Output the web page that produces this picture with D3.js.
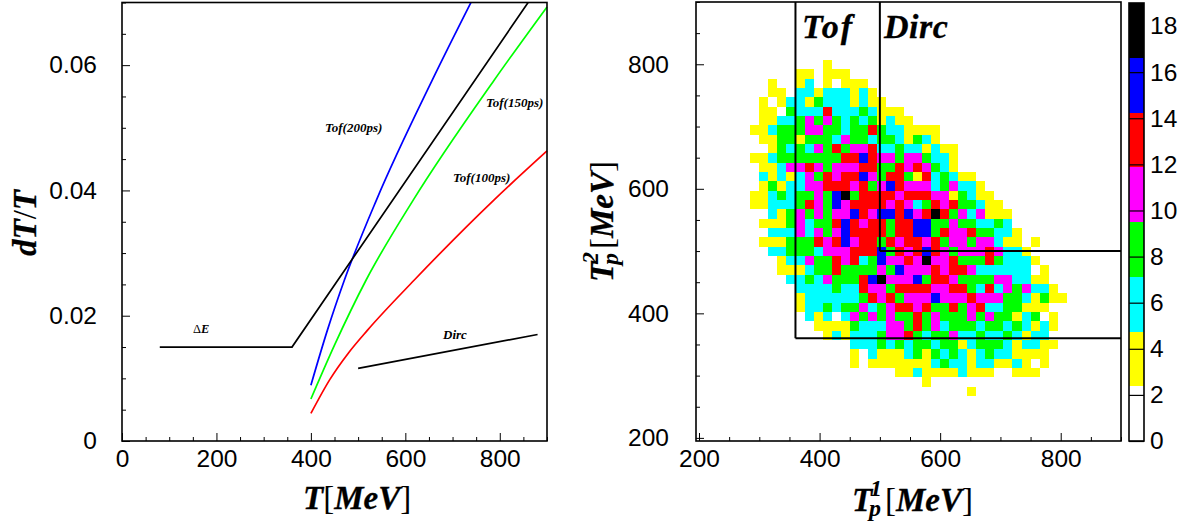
<!DOCTYPE html>
<html>
<head>
<meta charset="utf-8">
<script src="https://cdnjs.cloudflare.com/ajax/libs/d3/7.8.5/d3.min.js"></script>
<style>
  html, body { margin: 0; padding: 0; background: #fff; }
  svg { display: block; }
  .tick text { font-family: "Liberation Sans", sans-serif; font-size: 24.5px; fill: #000; }
  .title { font-family: "Liberation Serif", serif; font-weight: bold; font-style: italic; fill: #000; }
  .big { stroke: #000; stroke-width: 0.3; }
  .plain { font-weight: normal; font-style: normal; stroke: none; }
</style>
</head>
<body>
<div id="chart"></div>
<script>
// left panel: resolution curves [T, dT/T]
const deltaE = [[80, 0.015], [360, 0.015], [860, 0.07]]
const tof200 = [[400, 0.0089], [435, 0.0177], [471, 0.0257], [539, 0.0385], [657, 0.0576], [739, 0.07]]
const tof150 = [[400, 0.0067], [450, 0.0153], [517, 0.0257], [617, 0.0385], [788, 0.0576], [900, 0.0693]]
const tof100 = [[400, 0.0044], [440, 0.0098], [480, 0.0141], [520, 0.0177], [619, 0.0257], [788, 0.0385], [900, 0.0463]]
const dirc = [[500, 0.0116], [880, 0.017]]

// right panel: colour level of each bin, rows from top, columns from the left
const heatRows = [
  "000000001",
  "00000110111",
  "0010012010111",
  "00110221222121",
  "010122132221211",
  "01103222522232111",
  "011223434323231211",
  "112333443323353221111",
  "011331333243323321321",
  "00132324353445223221211",
  "11233333335565443443221",
  "01124454344455335454321",
  "0212124354556435531523211",
  "01312244555453465444234221",
  "112323343673555545554413211",
  "1122235436455554542354533211",
  "00213434344654665645753424111",
  "01113423356545535566334332232",
  "002224243465555355663544533221",
  "01113335456455354554534434421101",
  "0022333244455563545654344454221",
  "00012243354523644547445333532221",
  "000111233533334364445455422222201",
  "000022324333567444635543333442211",
  "0000022223225443555544553252434221",
  "00000122222235453444644454443321311",
  "000001223233423455453353452233111",
  "0000002120243434335343334343312301",
  "0000000111132224435342333233232121",
  "000000001212223445323342232232122",
  "0000000000022232323323312333212211",
  "000000000001021112313232123221111",
  "000000000001011111112322122112101",
  "00000000000000001121111211100111",
  "00000000000000000001",
  "0000000000000000000000001"
]
const binSize = 15
const binLeft = 285
const binTop = 807

const levelColors = ["#ffffff", "#ffff00", "#00ffff", "#00ff00", "#ff00ff", "#ff0000", "#0000ff", "#000000"]
const levelStep = 19 / 8

// acceptance cuts [[T1, T2], [T1, T2]]
const cuts = [
  [[360, 900], [360, 360]],
  [[360, 360], [900, 360]],
  [[500, 900], [500, 500]],
  [[500, 500], [900, 500]]
]

const leftXTicks = d3.range(0, 901, 50)
const leftYTicks = d3.range(0, 0.0701, 0.005)
const rightTicks = d3.range(200, 901, 50)
const barTicks = d3.range(0, 19, 2)

const wrapper = d3.select("#chart")
  .append("svg")
    .attr("width", 1185)
    .attr("height", 524)

// scales
const xLeft = d3.scaleLinear().domain([0, 900]).range([122, 547])
const yLeft = d3.scaleLinear().domain([0, 0.07]).range([441, 2.5])
const xRight = d3.scaleLinear().domain([195, 900]).range([696, 1121])
const yRight = d3.scaleLinear().domain([195, 900]).range([441, 2])
const yBar = d3.scaleLinear().domain([0, 19]).range([441, 3])
const levelColor = d3.scaleOrdinal().domain(d3.range(8)).range(levelColors)

// long ticks only on labelled values
function styleTicks(axisGroup, isMajor, horizontal) {
  axisGroup.selectAll(".tick").each(function(d) {
    const major = isMajor(d)
    const line = d3.select(this).select("line")
      .attr("stroke", "#000")
      .attr("stroke-width", 1)
    if (horizontal) line.attr("y2", major ? -8 : -4)
    else line.attr("x2", major ? 8 : 4)
    if (!major) d3.select(this).select("text").remove()
  })
  axisGroup.select(".domain").remove()
}

function drawFrame(x0, y0, x1, y1) {
  wrapper.append("rect")
    .attr("x", x0)
    .attr("y", y0)
    .attr("width", x1 - x0)
    .attr("height", y1 - y0)
    .attr("fill", "none")
    .attr("stroke", "#000")
    .attr("stroke-width", 1.6)
}

// 1. Left panel
const line = d3.line()
  .x(d => xLeft(d[0]))
  .y(d => yLeft(d[1]))

const curves = [
  [tof200, "#0000ff", d3.curveMonotoneX],
  [tof150, "#00ff00", d3.curveMonotoneX],
  [tof100, "#ff0000", d3.curveMonotoneX],
  [deltaE, "#000000", d3.curveLinear],
  [dirc, "#000000", d3.curveLinear]
]
curves.forEach(([points, color, curve]) => {
  wrapper.append("path")
    .attr("d", line.curve(curve)(points))
    .attr("fill", "none")
    .attr("stroke", color)
    .attr("stroke-width", 1.7)
})

const leftXAxis = wrapper.append("g")
  .attr("transform", `translate(0, ${yLeft(0)})`)
  .call(d3.axisBottom(xLeft).tickValues(leftXTicks).tickSizeInner(-8).tickSizeOuter(0).tickPadding(9).tickFormat(d3.format("d")))
styleTicks(leftXAxis, d => d % 200 === 0, true)

const leftYAxis = wrapper.append("g")
  .attr("transform", `translate(${xLeft(0)}, 0)`)
  .call(d3.axisLeft(yLeft).tickValues(leftYTicks).tickSizeInner(-8).tickSizeOuter(0).tickPadding(25).tickFormat(d => d === 0 ? "0" : d3.format(".2f")(d)))
styleTicks(leftYAxis, d => Math.round(d * 1000) % 20 === 0, false)

drawFrame(xLeft(0), yLeft(0.07), xLeft(900), yLeft(0))

const curveLabels = [
  ["Tof(200ps)", 325, 132],
  ["Tof(150ps)", 486, 107],
  ["Tof(100ps)", 453, 182],
  ["Dirc", 443, 339]
]
curveLabels.forEach(([label, x, y]) => {
  wrapper.append("text")
    .attr("class", "title")
    .attr("x", x)
    .attr("y", y)
    .attr("font-size", 13)
    .text(label)
})
wrapper.append("text")
  .attr("class", "title")
  .attr("x", 193)
  .attr("y", 333)
  .attr("font-size", 12.5)
  .html('<tspan class="plain">Δ</tspan>E')

const leftXTitle = wrapper.append("text")
  .attr("class", "title big")
  .attr("x", 303)
  .attr("y", 509)
  .attr("font-size", 33)
leftXTitle.append("tspan").text("T")
leftXTitle.append("tspan").attr("class", "plain").text("[")
leftXTitle.append("tspan").text("MeV")
leftXTitle.append("tspan").attr("class", "plain").text("]")

wrapper.append("text")
  .attr("class", "title big")
  .attr("transform", "translate(36, 256) rotate(-90)")
  .attr("font-size", 33)
  .html('dT<tspan class="plain">/</tspan>T')

// 2. Right panel
const cells = []
heatRows.forEach((row, r) => {
  row.split("").forEach((c, k) => {
    if (+c > 0) cells.push({ t1: binLeft + k * binSize, t2: binTop - r * binSize, level: +c })
  })
})

wrapper.append("g")
  .attr("shape-rendering", "crispEdges")
  .selectAll("rect")
  .data(cells)
  .join("rect")
    .attr("x", d => xRight(d.t1))
    .attr("y", d => yRight(d.t2))
    .attr("width", xRight(binSize) - xRight(0))
    .attr("height", yRight(0) - yRight(binSize))
    .attr("fill", d => levelColor(d.level))

cuts.forEach(([t1s, t2s]) => {
  wrapper.append("line")
    .attr("x1", xRight(t1s[0]))
    .attr("x2", xRight(t1s[1]))
    .attr("y1", yRight(t2s[0]))
    .attr("y2", yRight(t2s[1]))
    .attr("stroke", "#000")
    .attr("stroke-width", 2)
})

const rightXAxis = wrapper.append("g")
  .attr("transform", `translate(0, ${yRight(195)})`)
  .call(d3.axisBottom(xRight).tickValues(rightTicks).tickSizeInner(-8).tickSizeOuter(0).tickPadding(9).tickFormat(d3.format("d")))
styleTicks(rightXAxis, d => d % 200 === 0, true)

const rightYAxis = wrapper.append("g")
  .attr("transform", `translate(${xRight(195)}, 0)`)
  .call(d3.axisLeft(yRight).tickValues(rightTicks).tickSizeInner(-8).tickSizeOuter(0).tickPadding(27).tickFormat(d3.format("d")))
styleTicks(rightYAxis, d => d % 200 === 0, false)

drawFrame(xRight(195), yRight(900), xRight(900), yRight(195))

function drawDoubleTitle(transform, sup) {
  const g = wrapper.append("g").attr("transform", transform)
  g.append("text").attr("class", "title big").attr("font-size", 33).text("T")
  g.append("text").attr("class", "title").attr("x", 18).attr("y", -15).attr("font-size", 24).text(sup)
  g.append("text").attr("class", "title").attr("x", 17).attr("y", 5).attr("font-size", 24).text("p")
  g.append("text").attr("class", "title big").attr("x", 33).attr("font-size", 33)
    .html('<tspan class="plain">[</tspan>MeV<tspan class="plain">]</tspan>')
}
drawDoubleTitle("translate(852, 511)", "1")
drawDoubleTitle("translate(613, 282) rotate(-90)", "2")

wrapper.append("text").attr("class", "title big").attr("x", 802).attr("y", 38).attr("font-size", 34).attr("letter-spacing", 2).text("Tof")
wrapper.append("text").attr("class", "title big").attr("x", 884).attr("y", 38).attr("font-size", 34).attr("letter-spacing", 0.5).text("Dirc")

// 3. Colour bar
wrapper.append("g")
  .attr("shape-rendering", "crispEdges")
  .selectAll("rect")
  .data(levelColors)
  .join("rect")
    .attr("x", 1129)
    .attr("width", 15)
    .attr("y", (d, i) => yBar((i + 1) * levelStep))
    .attr("height", yBar(0) - yBar(levelStep))
    .attr("fill", d => d)

const barAxis = wrapper.append("g")
  .attr("transform", "translate(1144, 0)")
  .call(d3.axisRight(yBar).tickValues(barTicks).tickSizeInner(-15).tickSizeOuter(0).tickPadding(6).tickFormat(d3.format("d")))
barAxis.select(".domain").remove()
barAxis.selectAll(".tick line").attr("stroke", "#000").attr("stroke-width", 1.2)

drawFrame(1129, yBar(19), 1144, yBar(0))
</script>
</body>
</html>
